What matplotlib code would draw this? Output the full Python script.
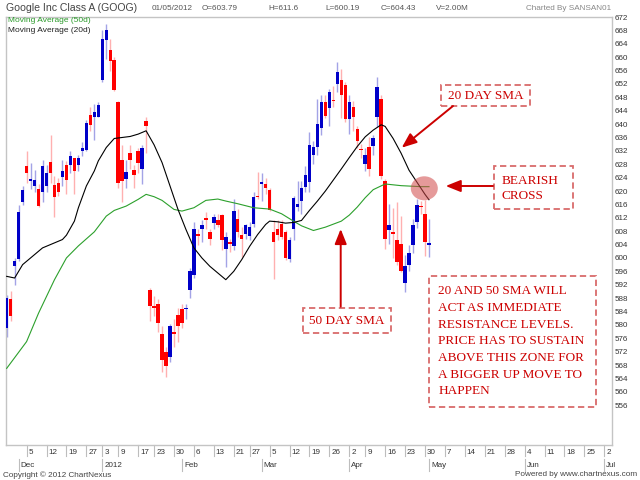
import matplotlib
matplotlib.use("Agg")
import matplotlib.pyplot as plt
from matplotlib.patches import Rectangle, Ellipse, FancyArrowPatch
import pandas as pd

# ---------------- data ----------------
holidays = ['2011-11-24', '2011-12-26', '2012-01-02', '2012-01-16', '2012-02-20', '2012-04-06']
first_session = '2011-11-28'
last_session = '2012-05-01'
axis_end = '2012-07-02'

opens = [579.2, 587.6, 597.7, 599.7, 616.8, 627.4, 623.0, 621.5, 620.7, 619.6,
         621.5, 628.7, 621.7, 622.5, 624.3, 627.9, 627.9, 629.9, 627.9, 632.1,
         632.4, 642.7, 642.2, 642.2, 653.2, 665.0, 662.2, 659.1, 646.6, 629.4,
         623.5, 631.4, 626.3, 631.9, 626.5, 640.9, 590.3, 585.6, 586.1, 577.3,
         571.8, 570.4, 577.8, 582.9, 584.6, 584.6, 590.5, 594.9, 607.0, 608.5,
         611.9, 607.8, 610.5, 611.2, 612.7, 602.8, 604.8, 603.5, 611.7, 606.8,
         607.3, 606.5, 610.0, 618.6, 622.2, 622.0, 620.3, 607.8, 608.7, 610.2,
         607.9, 599.6, 608.7, 615.1, 617.1, 621.2, 622.8, 630.9, 633.3, 638.7,
         646.6, 644.9, 647.0, 652.0, 653.3, 651.7, 641.5, 645.1, 638.5, 632.5,
         628.2, 633.3, 633.6, 642.2, 647.6, 623.0, 608.3, 607.8, 605.5, 604.3,
         592.6, 598.0, 603.9, 610.8, 615.5, 613.0, 603.79]
highs = [588.8, 590.2, 599.9, 615.8, 621.5, 631.9, 628.4, 626.3, 622.0, 629.2,
         627.9, 636.8, 624.5, 624.0, 629.4, 628.9, 631.9, 629.9, 630.9, 634.5,
         641.2, 645.1, 646.1, 646.6, 668.0, 669.8, 665.3, 660.1, 647.0, 633.8,
         629.4, 633.8, 627.9, 632.8, 633.8, 642.2, 591.0, 588.6, 587.6, 579.7,
         573.3, 580.2, 581.7, 585.1, 586.1, 586.1, 596.9, 610.7, 608.7, 611.2,
         613.6, 608.7, 613.0, 613.2, 613.2, 607.8, 605.8, 617.6, 614.7, 609.2,
         610.2, 610.8, 619.6, 625.8, 625.5, 624.0, 620.8, 611.2, 611.2, 611.2,
         608.2, 606.3, 618.6, 623.0, 623.0, 627.4, 637.6, 634.8, 647.6, 648.8,
         648.6, 650.5, 651.5, 658.6, 656.4, 652.5, 648.6, 647.0, 639.5, 634.0,
         633.0, 636.0, 636.8, 654.0, 648.6, 623.5, 616.0, 614.8, 616.7, 612.5,
         600.8, 604.0, 611.5, 617.7, 617.0, 617.4, 611.6]
lows = [576.4, 581.2, 592.0, 599.0, 615.8, 622.5, 620.6, 619.6, 615.1, 616.6,
        619.6, 622.5, 612.2, 618.6, 621.5, 619.1, 625.5, 619.1, 626.0, 630.6,
        631.9, 637.8, 635.3, 642.0, 652.5, 659.5, 656.0, 649.8, 621.0, 616.6,
        621.0, 626.5, 621.0, 625.5, 622.0, 631.4, 581.2, 582.7, 577.8, 566.0,
        564.5, 568.9, 573.3, 574.8, 579.2, 581.7, 588.1, 594.0, 603.8, 604.8,
        608.7, 603.8, 608.5, 609.2, 602.3, 597.4, 601.8, 602.3, 606.3, 600.4,
        605.8, 605.5, 609.2, 617.6, 617.1, 619.1, 613.9, 593.7, 605.3, 605.8,
        599.4, 598.9, 605.3, 614.1, 613.2, 619.6, 619.6, 628.0, 630.9, 636.8,
        641.7, 639.5, 645.0, 649.5, 641.7, 640.5, 637.0, 638.0, 633.0, 630.0,
        626.0, 624.5, 630.8, 639.2, 623.5, 602.8, 604.3, 600.0, 597.8, 595.8,
        589.8, 596.0, 601.5, 609.0, 613.0, 600.5, 600.19]
closes = [588.1, 582.7, 599.1, 613.6, 620.3, 625.5, 623.7, 623.3, 615.6, 627.4,
          625.5, 625.5, 618.1, 619.6, 626.0, 623.3, 630.4, 626.0, 629.9, 633.0,
          640.2, 639.7, 643.7, 645.6, 665.4, 668.0, 658.9, 650.1, 622.5, 623.0,
          625.8, 629.4, 624.8, 628.4, 632.8, 639.4, 585.6, 585.1, 580.7, 569.4,
          567.7, 579.7, 577.3, 579.7, 580.7, 585.1, 596.0, 608.7, 606.6, 609.7,
          611.4, 605.8, 612.2, 609.7, 605.5, 606.3, 604.3, 613.9, 607.8, 605.8,
          609.7, 609.2, 618.3, 618.1, 622.5, 621.0, 614.4, 604.8, 606.8, 606.3,
          599.9, 605.3, 617.9, 616.1, 621.0, 624.8, 633.8, 633.3, 639.9, 646.6,
          642.5, 649.6, 646.8, 655.7, 648.6, 641.5, 646.7, 642.0, 634.8, 632.2,
          630.7, 626.5, 635.9, 651.0, 624.5, 605.8, 609.8, 607.3, 598.9, 596.0,
          597.5, 601.4, 609.8, 615.7, 615.2, 604.9, 604.43]

# moving averages: (session number, value)
ma20_session = [0, 2, 4, 7, 9, 12, 14, 15, 17, 18, 20, 22, 23, 25, 27, 29, 31, 33, 35, 37,
                39, 41, 43, 45, 47, 49, 51, 53, 55, 57, 59, 61, 63, 65, 66, 68, 70, 72, 74, 76,
                78, 80, 82, 84, 86, 88, 90, 92, 94, 95, 97, 99, 101, 103, 105, 106]
ma20_value = [594.5, 594.0, 598.0, 601.0, 603.0, 604.5, 605.5, 606.8, 611.0, 615.0,
              621.5, 626.0, 629.0, 633.0, 635.7, 636.0, 636.3, 637.0, 638.0, 633.8,
              628.5, 621.5, 614.5, 608.5, 603.0, 600.0, 597.5, 595.5, 593.5, 596.0,
              599.5, 603.5, 607.0, 610.0, 611.0, 610.8, 610.4, 610.6, 611.2, 614.2,
              617.0, 620.0, 623.3, 626.6, 630.0, 633.3, 636.2, 638.2, 639.8, 639.3,
              635.7, 631.3, 626.2, 622.6, 619.0, 617.4]
ma50_session = [0, 5, 8, 12, 15, 18, 22, 25, 27, 30, 33, 35, 37, 39, 42, 44, 47, 50, 53, 55,
                58, 62, 66, 69, 72, 74, 77, 80, 84, 86, 88, 90, 92, 95, 99, 104, 106]
ma50_value = [567.0, 575.0, 583.5, 593.5, 600.0, 603.6, 607.8, 612.5, 614.2, 615.5,
              617.5, 619.0, 618.3, 617.2, 614.5, 614.0, 615.0, 617.2, 617.6, 617.0,
              616.2, 615.0, 614.6, 613.2, 611.0, 609.6, 608.2, 609.2, 611.0, 612.8,
              615.2, 618.0, 620.4, 622.1, 621.6, 621.3, 621.3]

price_ticks = list(range(556, 673, 4))
month_tick_dates = ['2011-12-01', '2012-01-03', '2012-02-01', '2012-03-01',
                    '2012-04-02', '2012-05-01', '2012-06-04', '2012-07-02']
month_tick_labels = ['Dec', '2012', 'Feb', 'Mar', 'Apr', 'May', 'Jun', 'Jul']
first_week_tick = '2011-12-05'

header_title = 'Google Inc Class A (GOOG)'
header_items = ['01/05/2012', 'O=603.79', 'H=611.6', 'L=600.19', 'C=604.43', 'V=2.00M']

# ---------------- calendar ----------------
hist = [d for d in pd.bdate_range(first_session, last_session)
        if d.strftime('%Y-%m-%d') not in holidays]
future = list(pd.bdate_range(pd.Timestamp(last_session) + pd.Timedelta(days=1), axis_end))
calendar = hist + future
pos = {d.strftime('%Y-%m-%d'): n for n, d in enumerate(calendar)}

week_ticks = []
prev_week = None
for n, d in enumerate(calendar):
    wk = (d.isocalendar()[0], d.isocalendar()[1])
    if wk != prev_week and d >= pd.Timestamp(first_week_tick):
        week_ticks.append((n, str(d.day)))
    prev_week = wk

# ---------------- figure ----------------
W, H = 640, 480
fig = plt.figure(figsize=(6.4, 4.8), dpi=100)
plt.rcParams['font.family'] = ['Liberation Sans', 'DejaVu Sans']


def P(x, y):
    return (x / W, 1 - y / H)


ax_left, ax_right, ax_top, ax_bottom = 6, 612, 17, 445
ax = fig.add_axes([ax_left / W, 1 - ax_bottom / H, (ax_right - ax_left) / W, (ax_bottom - ax_top) / H])
ax.set_xlim(-0.17, 151.94)
ax.set_ylim(544.1, 671.76)

blue, red = '#0000c8', '#ff0000'
blue_w, red_w = '#a3a3e6', '#ffb0b0'
for n in range(len(opens)):
    o, h, l, c = opens[n], highs[n], lows[n], closes[n]
    up = c >= o
    ax.vlines(n, l, h, colors=blue_w if up else red_w, lw=1.0, zorder=2)
    lo = min(o, c)
    ht = max(abs(c - o), 0.45)
    ax.add_patch(Rectangle((n - 0.44, lo), 0.88, ht, facecolor=blue if up else red,
                           edgecolor='none', zorder=3))

ax.plot(ma50_session, ma50_value, color='#2ca02c', lw=0.8, zorder=4)
ax.plot(ma20_session, ma20_value, color='black', lw=0.8, zorder=4)

for sp in ax.spines.values():
    sp.set_color('#c4c4c4')
    sp.set_linewidth(1.0)
ax.set_xticks([])
ax.yaxis.tick_right()
ax.set_yticks(price_ticks)
ax.set_yticklabels([str(v) for v in price_ticks])
ax.tick_params(axis='y', length=0, pad=2, labelsize=5.8, labelcolor='#333333')

xt = ax.get_xaxis_transform()
px = 72 / 100.0
axh = ax_bottom - ax_top
for n, lab in week_ticks:
    ax.plot([n, n], [0, -11 / axh], transform=xt, color='#bdbdbd', lw=0.8, clip_on=False)
    ax.annotate(lab, xy=(n, 0), xycoords=xt, xytext=(2 * px, -7 * px), textcoords='offset points',
                ha='left', va='center', fontsize=5.8, color='#333333')
for d, lab in zip(month_tick_dates, month_tick_labels):
    n = pos[d]
    ax.plot([n, n], [-14 / axh, -26 / axh], transform=xt, color='#bdbdbd', lw=0.8, clip_on=False)
    ax.annotate(lab, xy=(n, 0), xycoords=xt, xytext=(2 * px, -20.5 * px), textcoords='offset points',
                ha='left', va='center', fontsize=5.8, color='#333333')

# header
fig.text(*P(6, 8), header_title, fontsize=7.6, color='#444444', va='center', ha='left')
for x, t in zip([152, 202, 268, 325, 381, 436], header_items):
    fig.text(*P(x, 8.5), t, fontsize=5.9, color='#555555', va='center', ha='left')
fig.text(*P(611, 8.5), 'Charted By SANSAN01', fontsize=5.9, color='#888888', va='center', ha='right')
fig.text(*P(8, 21), 'Moving Average (50d)', fontsize=6, color='#2a9a2a', va='center', ha='left')
fig.text(*P(8, 30), 'Moving Average (20d)', fontsize=6, color='#222222', va='center', ha='left')

# footer
fig.text(*P(3, 475), 'Copyright \u00a9 2012 ChartNexus', fontsize=5.9, color='#444444', va='center', ha='left')
fig.text(*P(637, 475), 'Powered by www.chartnexus.com', fontsize=5.9, color='#444444', va='center', ha='right')

# annotations
ann_red = '#cc0000'
box_col = '#d96b6b'
serif = ['Liberation Serif', 'DejaVu Serif']


def box(x0, y0, x1, y1):
    fig.add_artist(Rectangle(P(x0, y1), (x1 - x0) / W, (y1 - y0) / H, transform=fig.transFigure,
                             fill=False, edgecolor=box_col, lw=1.3, ls=(0, (3.5, 2)), zorder=6))


def arrow(x0, y0, x1, y1):
    fig.add_artist(FancyArrowPatch(P(x0, y0), P(x1, y1), transform=fig.transFigure,
                                   arrowstyle='-|>,head_length=0.45,head_width=0.18',
                                   mutation_scale=20, color=ann_red, lw=1.4,
                                   shrinkA=0, shrinkB=0, zorder=6))


box(441, 85, 530, 106)
fig.text(*P(485.5, 96), '20 DAY SMA', fontsize=9.5, family=serif, color=ann_red, ha='center', va='center')
arrow(453, 106, 401.7, 147.7)

box(494, 166, 573, 209)
fig.text(*P(501.7, 180.5), 'BEARISH', fontsize=9.5, family=serif, color=ann_red, ha='left', va='center')
fig.text(*P(501.7, 196), 'CROSS', fontsize=9.5, family=serif, color=ann_red, ha='left', va='center')
arrow(493, 186, 445.7, 186)

fig.add_artist(Ellipse(P(424.3, 188.3), 27 / W, 24 / H, transform=fig.transFigure,
                       facecolor='#d04848', alpha=0.55, edgecolor='none', zorder=5))

box(303, 308, 391, 333)
fig.text(*P(347, 321), '50 DAY SMA', fontsize=9.5, family=serif, color=ann_red, ha='center', va='center')
arrow(340.7, 306.7, 340.7, 229)

box(429.3, 276, 596, 406.7)
big_lines = ['20 AND 50 SMA WILL', 'ACT AS IMMEDIATE', 'RESISTANCE LEVELS.',
             'PRICE HAS TO SUSTAIN', 'ABOVE THIS ZONE FOR', 'A BIGGER UP MOVE TO', 'HAPPEN']
for k, line in enumerate(big_lines):
    fig.text(*P(438.3, 291.5 + 16.6 * k), line, fontsize=9.5, family=serif, color=ann_red,
             ha='left', va='center')

fig.savefig('out.png', dpi=100)
